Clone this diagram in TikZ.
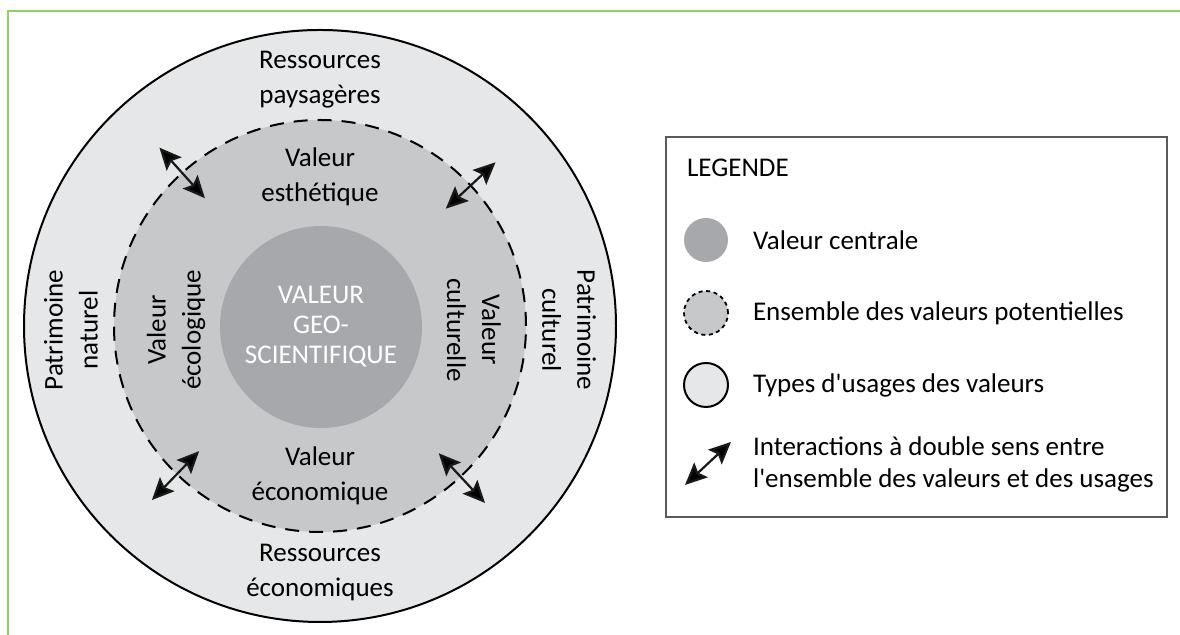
\documentclass[tikz,border=0pt]{standalone}
\usepackage{fontspec}
\setmainfont{Carlito}
\usetikzlibrary{arrows.meta,calc,positioning}

\definecolor{usagegray}{RGB}{230,231,232}
\definecolor{valgray}{RGB}{199,200,202}
\definecolor{centgray}{RGB}{166,168,171}
\definecolor{framegreen}{RGB}{141,211,95}
\definecolor{boxgray}{RGB}{90,90,90}

\begin{document}
\begin{tikzpicture}[x=0.5pt, y=0.5pt,
    usage/.style={circle, draw=black, line width=1pt, fill=usagegray, inner sep=0pt},
    valeurs/.style={circle, draw=black, line width=1pt, dash pattern=on 7pt off 5pt, fill=valgray, inner sep=0pt},
    centrale/.style={circle, fill=centgray, inner sep=0pt},
    label/.style={align=center, font=\fontsize{13.5}{17.5}\selectfont},
    legtext/.style={anchor=west, align=left, font=\fontsize{13.5}{16}\selectfont},
    biarrow/.style={{Stealth[length=11pt, width=10pt, inset=2pt, fill=black]}-{Stealth[length=11pt, width=10pt, inset=2pt, fill=black]}, line width=1.1pt, black!90},
]
\useasboundingbox (0,0) rectangle (1180,635);

% frame
\draw[framegreen, line width=1.2pt] (8,0) -- (8,624) -- (1180,624);

% circles
\coordinate (ctr) at (320,309);
\node[usage, minimum size=296pt] (outer) at (ctr) {};
\node[valeurs, minimum size=206pt] (pot) at (ctr) {};
\node[centrale, minimum size=101pt] (geo) at (321,308) {};

% centre
\node[label, text=white, font=\fontsize{13.5}{15}\selectfont] (geotxt) at (geo) {VALEUR\\GEO-\\SCIENTIFIQUE};

% values
\node[label] (esth) at (320,458) {Valeur\\esthétique};
\node[label] (eco) at (320,159) {Valeur\\économique};
\node[label, rotate=90] (ecol) at (176,305) {Valeur\\écologique};
\node[label, rotate=-90] (cult) at (474,305) {Valeur\\culturelle};

% usages
\node[label] (pays) at (320,555) {Ressources\\paysagères};
\node[label] (resseco) at (320,62) {Ressources\\économiques};
\node[label, rotate=90] (patnat) at (71,305) {Patrimoine\\naturel};
\node[label, rotate=-90] (patcult) at (569,305) {Patrimoine\\culturel};

% interactions
\draw[biarrow] ($(ctr)+(132:86pt)$) -- ($(ctr)+(132:120pt)$);
\draw[biarrow] ($(ctr)+(43:86pt)$) -- ($(ctr)+(43:120pt)$);
\draw[biarrow] ($(ctr)+(226:87pt)$) -- ($(ctr)+(226:121pt)$);
\draw[biarrow] ($(ctr)+(313:87pt)$) -- ($(ctr)+(313:121pt)$);

% Legend
\draw[boxgray, line width=1pt] (666,118) rectangle (1167,498);
\node[legtext] (legtitle) at (680,467) {LEGENDE};

\node[centrale, minimum size=22pt] (lcent) at (706,395) {};
\node[legtext] (lcenttxt) at (746,395) {Valeur centrale};

\node[valeurs, minimum size=22pt, line width=0.9pt, dash pattern=on 2pt off 1.8pt] (lpot) at (706,322) {};
\node[legtext] (lpottxt) at (746,322) {Ensemble des valeurs potentielles};

\node[usage, minimum size=22pt] (luse) at (706,250) {};
\node[legtext] (lusetxt) at (746,250) {Types d\textquotesingle usages des valeurs};

\coordinate (larra) at (685,150);
\coordinate (larrb) at (731,193);
\draw[biarrow] (larra) -- (larrb);
\node[legtext] (larrtxt) at (746,171) {Interactions à double sens entre\\l\textquotesingle ensemble des valeurs et des usages};

\end{tikzpicture}
\end{document}
